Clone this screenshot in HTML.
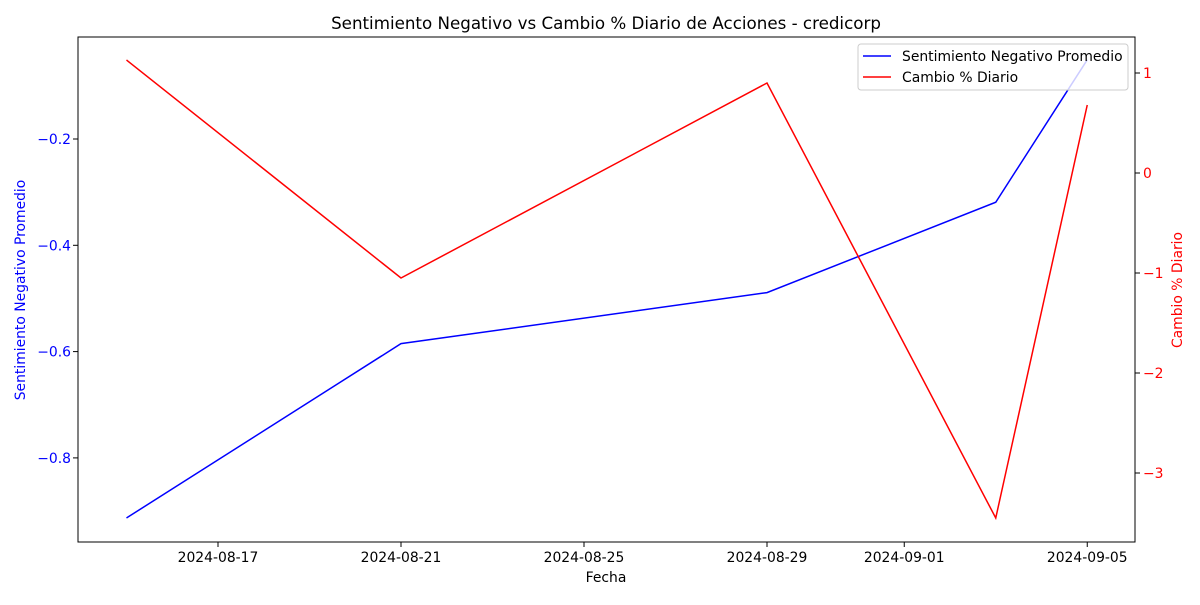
<!DOCTYPE html>
<html><head><meta charset="utf-8"><style>
body{margin:0;background:#fff;font-family:"Liberation Sans","DejaVu Sans",sans-serif;}
svg text{font-family:"DejaVu Sans","Liberation Sans",sans-serif;}
</style></head><body>
<svg id="c" width="1200" height="600" xmlns="http://www.w3.org/2000/svg"></svg>
<script>
const dates=["2024-08-15","2024-08-21","2024-08-29","2024-09-03","2024-09-05"];
const sentiment=[-0.913,-0.585,-0.489,-0.319,-0.051];
const change=[1.13,-1.05,0.90,-3.45,0.68];
const xTicks=["2024-08-17","2024-08-21","2024-08-25","2024-08-29","2024-09-01","2024-09-05"];
const leftTicks=[-0.8,-0.6,-0.4,-0.2];
const rightTicks=[-3,-2,-1,0,1];
const L=78,R=1135,T=37,B=542;
const FS=13.9;
const d0=Date.parse("2024-08-17");
const xs=d=>218+(Date.parse(d)-d0)/86400000*45.75;
const yl=v=>139+(-0.2-v)*531.5;
const yr=v=>173-v*100;
const svg=document.getElementById('c');
const NS="http://www.w3.org/2000/svg";
function mk(t,a,txt){const e=document.createElementNS(NS,t);for(const k in a)e.setAttribute(k,a[k]);if(txt!=null)e.textContent=txt;svg.appendChild(e);return e;}
function fmt(v){return String(v).replace('-','\u2212');}
let e;
e=mk('text',{x:606,y:29,'font-size':16.7,'text-anchor':'middle'},'Sentimiento Negativo vs Cambio % Diario de Acciones - credicorp');


xTicks.forEach(t=>{const x=xs(t);
e=mk('line',{x1:x,x2:x,y1:B,y2:B+5,stroke:'#000'});


e=mk('text',{x:x,y:B+20,'font-size':FS,'text-anchor':'middle'},t);

});
leftTicks.forEach(t=>{const y=yl(t);
e=mk('line',{x1:L-5,x2:L,y1:y,y2:y,stroke:'#000'});


e=mk('text',{x:L-7,y:y+5,'font-size':FS,'text-anchor':'end',fill:'blue'},fmt(t.toFixed(1)));

});
rightTicks.forEach(t=>{const y=yr(t);
e=mk('line',{x1:R,x2:R+5,y1:y,y2:y,stroke:'#000'});


e=mk('text',{x:R+8,y:y+5,'font-size':FS,fill:'red'},fmt(t));

});
e=mk('text',{x:606,y:582,'font-size':FS,'text-anchor':'middle'},'Fecha');


e=mk('text',{x:25,y:290,'font-size':FS,'text-anchor':'middle',fill:'blue',transform:'rotate(-90 25 290)'},'Sentimiento Negativo Promedio');


e=mk('text',{x:1182,y:290,'font-size':FS,'text-anchor':'middle',fill:'red',transform:'rotate(-90 1182 290)'},'Cambio % Diario');


e=mk('polyline',{points:dates.map((d,i)=>xs(d)+','+yl(sentiment[i])).join(' '),fill:'none',stroke:'blue','stroke-width':1.5});


e=mk('polyline',{points:dates.map((d,i)=>xs(d)+','+yr(change[i])).join(' '),fill:'none',stroke:'red','stroke-width':1.5});


e=mk('rect',{x:L,y:T,width:R-L,height:B-T,fill:'none',stroke:'#000','stroke-width':1});


e=mk('rect',{x:858,y:44,width:270,height:46,fill:'#fff','fill-opacity':0.8,stroke:'#ccc',rx:3});


[['blue','Sentimiento Negativo Promedio',56],['red','Cambio % Diario',77]].forEach(([c,l,y])=>{
e=mk('line',{x1:863,x2:891,y1:y,y2:y,stroke:c,'stroke-width':1.5});


e=mk('text',{x:902,y:y+5,'font-size':FS},l);

});
</script>
</body></html>
